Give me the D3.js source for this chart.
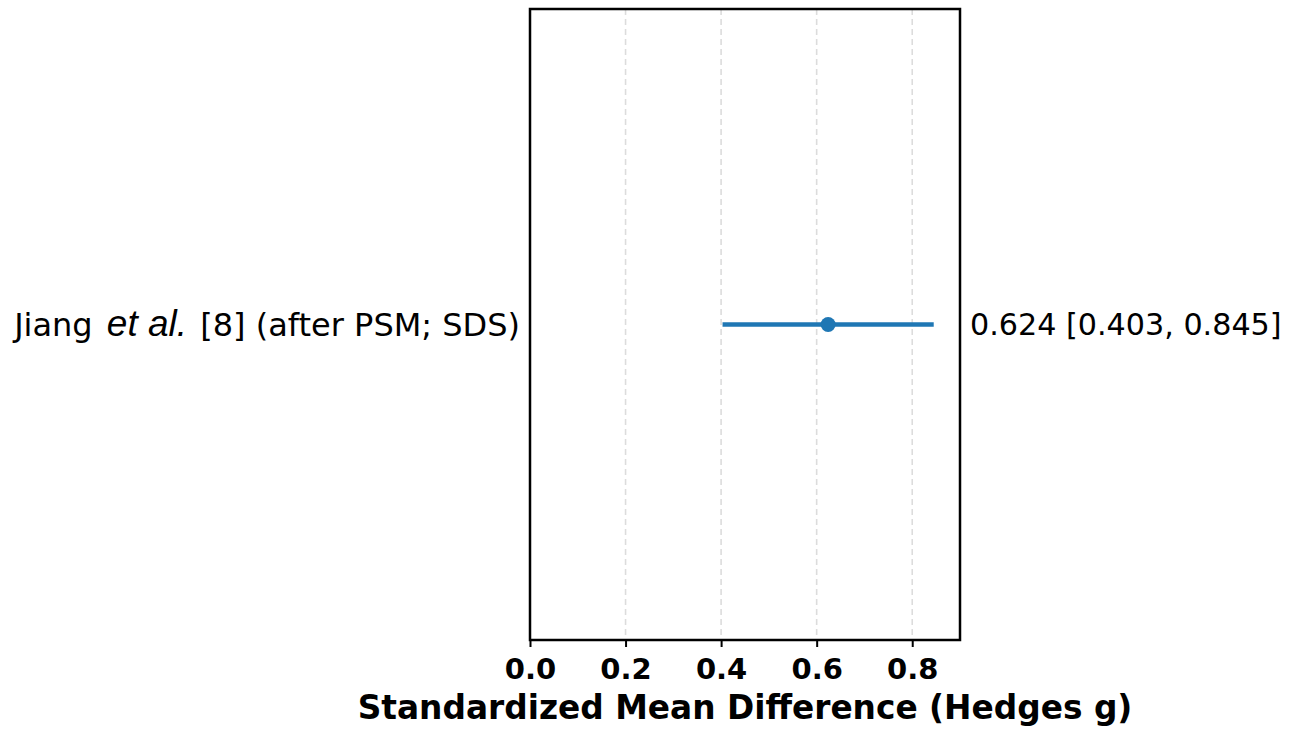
<!DOCTYPE html>
<html>
<head>
<meta charset="utf-8">
<script src="https://cdn.jsdelivr.net/npm/d3@7"></script>
<style>
  body { margin: 0; background: #fff; }
  svg { display: block; }
</style>
</head>
<body>
<div id="chart"></div>
<script>
// study rows (one here) and their estimates
var studies = ['Jiang'];
var studyRefs = [' [8] (after PSM; SDS)'];
var effects = [0.624];
var ciLower = [0.403];
var ciUpper = [0.845];
var xTicks = [0.0, 0.2, 0.4, 0.6, 0.8];
var xTitle = 'Standardized Mean Difference (Hedges g)';

var W = 1292, H = 729;
var plot = { left: 530, right: 960, top: 9, bottom: 640 };
var blue = '#1f77b4';

var svg = d3.select('#chart').append('svg')
  .attr('width', W)
  .attr('height', H);

var x = d3.scaleLinear()
  .domain([0, 0.9])
  .range([plot.left, plot.right]);

var y = d3.scaleBand()
  .domain(studies)
  .range([plot.top, plot.bottom]);

// dashed vertical grid
svg.append('g').selectAll('line')
  .data(xTicks)
  .enter().append('line')
  .attr('x1', function(d) { return x(d); })
  .attr('x2', function(d) { return x(d); })
  .attr('y1', plot.top)
  .attr('y2', plot.bottom)
  .attr('stroke', '#dcdcdc')
  .attr('stroke-width', 1.6)
  .attr('stroke-dasharray', '6,4');

// x axis
var xAxis = d3.axisBottom(x)
  .tickValues(xTicks)
  .tickFormat(d3.format('.1f'))
  .tickSize(7)
  .tickPadding(11);

var gx = svg.append('g')
  .attr('transform', 'translate(0,' + plot.bottom + ')')
  .call(xAxis);
gx.select('.domain').remove();
gx.selectAll('.tick line').attr('stroke', '#000').attr('stroke-width', 2);
gx.selectAll('.tick text')
  .attr('fill', '#000')
  .style('font-family', 'DejaVu Sans')
  .style('font-weight', 'bold')
  .style('font-size', '29px');

// frame
svg.append('rect')
  .attr('x', plot.left)
  .attr('y', plot.top)
  .attr('width', plot.right - plot.left)
  .attr('height', plot.bottom - plot.top)
  .attr('fill', 'none')
  .attr('stroke', '#000')
  .attr('stroke-width', 2.5);

// confidence intervals and point estimates
var rows = svg.append('g').selectAll('g')
  .data(studies)
  .enter().append('g');

rows.append('line')
  .attr('x1', function(d, i) { return x(ciLower[i]); })
  .attr('x2', function(d, i) { return x(ciUpper[i]); })
  .attr('y1', function(d) { return y(d) + y.bandwidth() / 2; })
  .attr('y2', function(d) { return y(d) + y.bandwidth() / 2; })
  .attr('stroke', blue)
  .attr('stroke-width', 4.5);

rows.append('circle')
  .attr('cx', function(d, i) { return x(effects[i]); })
  .attr('cy', function(d) { return y(d) + y.bandwidth() / 2; })
  .attr('r', 7.5)
  .attr('fill', blue);

// study labels on the left
var lbl = rows.append('text')
  .attr('x', plot.left - 10)
  .attr('y', function(d) { return y(d) + y.bandwidth() / 2; })
  .attr('dy', '0.36em')
  .attr('text-anchor', 'end')
  .style('font-family', 'DejaVu Sans')
  .style('font-size', '32px')
  .attr('fill', '#000');
lbl.append('tspan').text(function(d) { return d + ' '; });
lbl.append('tspan')
  .attr('dx', 4)
  .style('font-family', 'Liberation Sans')
  .style('font-style', 'italic')
  .style('font-size', '37px')
  .text('et al.');
lbl.append('tspan')
  .attr('dx', 3)
  .text(function(d, i) { return studyRefs[i]; });

// effect text on the right
rows.append('text')
  .attr('x', plot.right + 10)
  .attr('y', function(d) { return y(d) + y.bandwidth() / 2; })
  .attr('dy', '0.36em')
  .style('font-family', 'DejaVu Sans')
  .style('font-size', '30.2px')
  .attr('fill', '#000')
  .text(function(d, i) {
    return effects[i].toFixed(3) + ' [' + ciLower[i].toFixed(3) + ', ' + ciUpper[i].toFixed(3) + ']';
  });

// x title
svg.append('text')
  .attr('x', (plot.left + plot.right) / 2)
  .attr('y', 719)
  .attr('text-anchor', 'middle')
  .style('font-family', 'DejaVu Sans')
  .style('font-weight', 'bold')
  .style('font-size', '32.8px')
  .attr('fill', '#000')
  .text(xTitle);
</script>
</body>
</html>
